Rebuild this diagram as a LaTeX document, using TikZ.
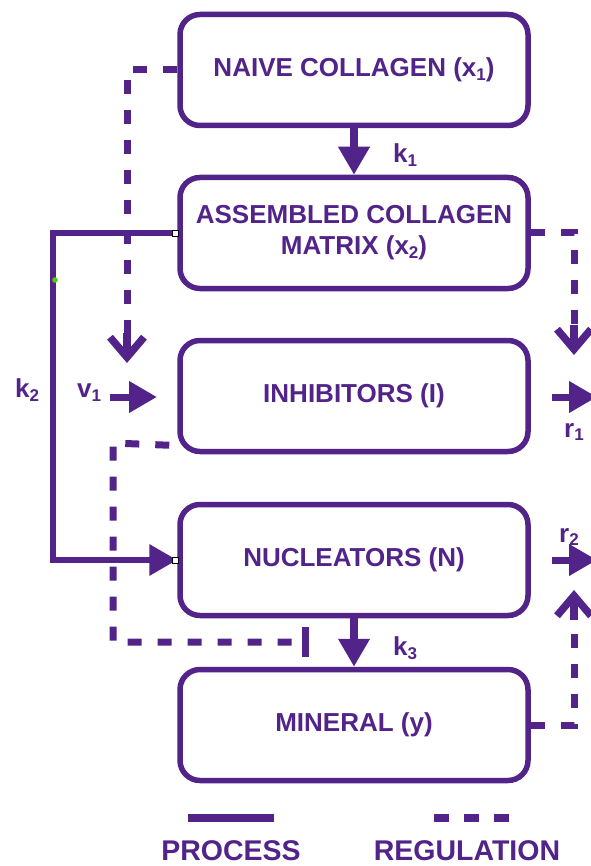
\documentclass[tikz,border=0pt]{standalone}
\usepackage{fontspec}
\setmainfont{Liberation Sans}
\usetikzlibrary{arrows.meta,calc}
\definecolor{kpurple}{RGB}{82,36,138}
\newcommand{\lsub}[1]{\raisebox{-0.15em}{\fontsize{17}{17}\selectfont #1}}
\begin{document}
\begin{tikzpicture}[x=1pt,y=-1pt,
  box/.style={draw=kpurple, line width=5.5pt, rounded corners=20pt, minimum width=348pt, minimum height=111pt, inner sep=0pt, text=kpurple, font=\fontsize{26}{31}\selectfont\bfseries, align=center},
  lbl/.style={text=kpurple, font=\fontsize{26}{30}\selectfont\bfseries, inner sep=0pt},
  leglbl/.style={text=kpurple, font=\fontsize{28.5}{32}\selectfont\bfseries, inner sep=0pt},
  proc/.style={draw=kpurple, line width=7pt},
  tri/.style={-{Triangle[length=28pt,width=30pt]}},
  reg/.style={draw=kpurple, line width=7pt, dash pattern=on 14pt off 16pt, line join=miter},
  barbtip/.style={draw=kpurple, line width=7.5pt, -{Straight Barb[length=20pt,width=34pt]}},
  handle/.style={draw=black, fill=white, line width=0.6pt, minimum size=6pt, inner sep=0pt}
]
\useasboundingbox (0,0) rectangle (590,866);
\fill[white] (0,0) rectangle (590,866);

% boxes
\node[box] (n1) at (354,70) {NAIVE COLLAGEN (x\lsub{1})};
\node[box] (n2) at (354,233) {ASSEMBLED COLLAGEN\\MATRIX (x\lsub{2})};
\node[box] (n3) at (354,396) {INHIBITORS (I)};
\node[box] (n4) at (354,560) {NUCLEATORS (N)};
\node[box] (n5) at (354,725) {MINERAL (y)};

% process arrows
\draw[proc, line width=8pt, tri] (n1.south) -- (n2.north);
\draw[proc, line width=8pt, tri] (n4.south) -- (n5.north);

\coordinate (k2a) at (53,233);
\coordinate (k2b) at (53,560);
\draw[proc, line width=6.5pt, tri, line join=miter] (n2.west) -- (k2a) -- (k2b) -- (n4.west);

\coordinate (v1s) at (110,397);
\coordinate (v1e) at (157,397);
\draw[proc, tri] (v1s) -- (v1e);

\coordinate (r1s) at (552,397);
\coordinate (r1e) at (597,397);
\draw[proc, tri] (r1s) -- (r1e);
\coordinate (r2s) at (552,560);
\coordinate (r2e) at (597,560);
\draw[proc, tri] (r2s) -- (r2e);

% regulation
\coordinate (a1) at (127,70);
\coordinate (a1s) at (127,333);
\coordinate (a1e) at (127,363);
\draw[reg] (n1.west) -- (a1) -- (a1s);
\draw[barbtip] (a1s) -- (a1e);

\coordinate (b1) at (574,233);
\coordinate (b1s) at (574,325);
\coordinate (b1e) at (574,355);
\draw[reg] (n2.east) -- (b1) -- (b1s);
\draw[barbtip] (b1s) -- (b1e);

\coordinate (b2) at (574,725);
\coordinate (b2s) at (574,620);
\coordinate (b2e) at (574,590);
\draw[reg] (n5.east) -- (b2) -- (b2s);
\draw[barbtip] (b2s) -- (b2e);

\coordinate (i0) at ($(n3.south west)+(-8,-9)$);
\coordinate (i1) at (113,443);
\coordinate (i2) at (113,642);
\coordinate (i3) at (309,642);
\draw[reg, -{Bar[width=30pt]}] (i0) -- (i1) -- (i2) -- (i3);

% labels
\node[lbl] (lk1) at (405,155) {k\lsub{1}};
\node[lbl] (lk2) at (27,390) {k\lsub{2}};
\node[lbl] (lk3) at (405,648) {k\lsub{3}};
\node[lbl] (lv1) at (89,393) {v\lsub{1}};
\node[lbl] (lr1) at (574,432) {r\lsub{1}};
\node[lbl] (lr2) at (569,537) {r\lsub{2}};

% handles (as in reference)
\node[handle] (h1) at (175,233) {};
\node[handle] (h2) at (175,560) {};
\fill[green!60!yellow!80!black] (55,280) circle (2.8pt);

% legend
\draw[kpurple, line width=8pt] (188,818) -- (274,818);
\draw[kpurple, line width=8pt, dash pattern=on 15pt off 15pt] (434,818) -- (509,818);
\node[leglbl] (lp) at (231,851) {PROCESS};
\node[leglbl] (lr) at (467,851) {REGULATION};
\end{tikzpicture}
\end{document}
